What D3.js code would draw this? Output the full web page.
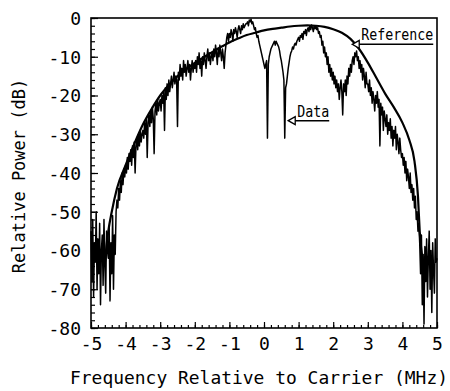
<!DOCTYPE html>
<html><head><meta charset="utf-8">
<script src="https://cdn.jsdelivr.net/npm/d3@7/dist/d3.min.js"></script>
<style>
html,body{margin:0;padding:0;background:#fff;}
svg{display:block;font-family:"DejaVu Sans Mono",monospace;}
</style></head>
<body><svg id="c" width="450" height="391"></svg>
<script>
// ---- data ----
const xTickLabels = [-5,-4,-3,-2,-1,0,1,2,3,4,5];
const yTickLabels = [0,-10,-20,-30,-40,-50,-60,-70,-80];
const freqStart = -5, freqStep = 0.025;
const dataPower = [
-55,-68,-52,-72,-58,-63,-50,-70,-57,-66,-53,-74,-60,-56,-69,-52,-64,-71,-55,-60,
-62,-54,-73,-58,-66,-51,-70,-56,-61,-50,-47,-49,-44,-47,-42,-45,-40,-43,-39,-41,
-38,-40,-36,-39,-35,-37,-34,-38,-33,-36,-32,-40,-33,-31,-34,-30,-33,-29,-32,-30,
-29,-31,-27,-30,-26,-36,-27,-25,-28,-24,-27,-23,-26,-35,-24,-22,-25,-21,-24,-22,
-21,-24,-20,-22,-19,-29,-18,-21,-17,-20,-16,-19,-17,-15,-18,-16,-14,-17,-15,-16,
-28,-14,-16,-12,-15,-13,-16,-11,-14,-12,-15,-13,-11,-14,-12,-16,-13,-11,-14,-12,
-13,-11,-14,-10,-12,-9,-13,-11,-15,-10,-12,-9,-11,-13,-10,-8,-11,-9,-12,-10,
-9,-11,-8,-10,-7,-9,-12,-8,-10,-7,-9,-11,-8,-10,-13,-9,-7,-5,-4,-6,
-4,-5,-3,-4,-6,-3,-4,-2.5,-3.5,-5,-3,-2,-3,-4,-2,-3,-1.5,-2.5,-2,-1.5,
-1.5,-1,-2,-0.5,-1,-0.3,-1.5,-1,-2,-3,-2.5,-4,-5,-4.5,-6,-7,-8,-9,-10,-11,
-12,-13,-12,-11,-31,-12,-10,-9,-8,-7.5,-7,-6.5,-6,-7,-6,-6.5,-7,-7.5,-8.5,-10,
-11,-12.5,-14,-16,-31,-18,-17,-15,-13,-11.5,-10,-9,-8.5,-7.5,-8,-7,-6.5,-7,-6,-5.5,
-5,-6,-4.5,-5,-4,-5.5,-3.5,-4,-3,-4.5,-3,-2.5,-3.5,-2,-3,-1.8,-2.5,-3.5,-2,-2.8,
-2,-3,-2.5,-4,-3.5,-5,-4.5,-7,-6,-9,-7.5,-10,-9,-12,-10,-14,-12,-15,-13,-16,
-14,-17,-15,-18,-16,-19,-17,-21,-18,-16,-19,-25,-17,-19,-16,-20,-15,-17,-13,-15,
-12,-14,-11,-10,-12,-9,-10,-8.5,-11,-10,-13,-11,-14,-12,-16,-13,-15,-18,-14,-17,
-17,-19,-16,-20,-18,-22,-19,-21,-24,-20,-22,-19,-23,-21,-33,-22,-25,-23,-29,-24,
-26,-28,-25,-30,-27,-29,-26,-31,-28,-33,-29,-31,-28,-34,-30,-32,-35,-31,-34,-36,
-35,-38,-36,-40,-37,-42,-39,-41,-44,-40,-45,-43,-47,-44,-49,-46,-52,-50,-55,-53,
-58,-66,-56,-74,-61,-79,-59,-68,-57,-72,-62,-55,-70,-60,-76,-58,-65,-71,-57,-63,
-62];
const refFreq = [-4.6,-4.5,-4.4,-4.25,-4,-3.75,-3.5,-3.25,-3,-2.75,-2.5,-2.25,-2,-1.75,-1.5,-1.25,-1,-0.75,-0.5,-0.25,0,0.25,0.5,0.75,1,1.25,1.5,1.75,2,2.25,2.5,2.75,3,3.25,3.5,3.75,4,4.2,4.35,4.45,4.5,4.6];
const refPower = [-63,-55,-50,-44,-38,-32.5,-27.5,-23.5,-20,-17.3,-15,-13.2,-11.6,-10.2,-8.8,-7.5,-6.3,-5.3,-4.4,-3.8,-3.2,-2.8,-2.5,-2.2,-2.0,-1.9,-2.0,-2.3,-2.9,-3.8,-5.4,-8,-11.5,-15.5,-19.5,-23,-27,-31.5,-37,-46,-55,-63];
const annotations = [
  {label:"Reference", f:2.55, p:-6.8},
  {label:"Data", f:0.7, p:-26.5}
];

// ---- layout ----
const L=91, R=437, T=18, B=328;
const svg = d3.select("#c");
const x = d3.scaleLinear().domain([-5,5]).range([L,R]);
const y = d3.scaleLinear().domain([-80,0]).range([B,T]);

// curves
const dataPts = dataPower.map((p,i)=>[freqStart+i*freqStep, p]);
svg.append("path").attr("d", d3.line().x(d=>x(d[0])).y(d=>y(d[1]))(dataPts))
  .attr("fill","none").attr("stroke","#000").attr("stroke-width",1.5).attr("stroke-linejoin","round");
const refPts = refFreq.map((f,i)=>[f, refPower[i]]);
svg.append("path").attr("d", d3.line().curve(d3.curveMonotoneX).x(d=>x(d[0])).y(d=>y(d[1]))(refPts))
  .attr("fill","none").attr("stroke","#000").attr("stroke-width",2.2);

// axes (inner ticks)
const fmt = d=>String(d);
svg.append("g").attr("transform",`translate(0,${B})`)
  .call(d3.axisBottom(x).tickValues(d3.range(-5,5.001,0.2)).tickSize(-3).tickFormat(""));
const gx2 = svg.append("g").attr("transform",`translate(0,${B})`)
  .call(d3.axisBottom(x).tickValues(xTickLabels).tickSize(-6).tickPadding(12).tickFormat(fmt));
svg.append("g").attr("transform",`translate(${L},0)`)
  .call(d3.axisLeft(y).tickValues(d3.range(-80,0.001,2)).tickSize(-4).tickFormat(""));
const gy2 = svg.append("g").attr("transform",`translate(${L},0)`)
  .call(d3.axisLeft(y).tickValues(yTickLabels).tickSize(-7).tickPadding(10).tickFormat(fmt));
svg.selectAll(".domain").remove();
svg.selectAll(".tick line").attr("stroke","#000").attr("stroke-width",1.2);
svg.selectAll(".tick text").attr("font-family","'DejaVu Sans Mono',monospace").attr("font-size",18).attr("fill","#000");
gx2.selectAll(".tick text").attr("dy","0.55em");
gy2.selectAll(".tick text").attr("dy","0.36em");

// frame
svg.append("rect").attr("x",L).attr("y",T).attr("width",R-L).attr("height",B-T)
  .attr("fill","none").attr("stroke","#000").attr("stroke-width",1.6);

// titles
svg.append("text").attr("x",259).attr("y",384).attr("text-anchor","middle")
  .attr("font-size",18).attr("textLength",378).attr("lengthAdjust","spacingAndGlyphs")
  .text("Frequency Relative to Carrier (MHz)");
svg.append("text").attr("transform","translate(25,176) rotate(-90)").attr("text-anchor","middle")
  .attr("font-size",17).text("Relative Power (dB)");

// annotations
annotations.forEach(a=>{
  const tx = x(a.f), ty = y(a.p);
  const isRef = a.label==="Reference";
  const w = isRef ? 72 : 32;
  svg.append("path").attr("d",`M${tx},${ty} L${tx+7},${ty-4} L${tx+7},${ty+4} Z`)
    .attr("fill","#fff").attr("stroke","#000").attr("stroke-width",1.3);
  svg.append("line").attr("x1",tx+7).attr("x2",tx+7+w+2).attr("y1",ty).attr("y2",ty)
    .attr("stroke","#000").attr("stroke-width",1.5);
  svg.append("text").attr("x",tx+9).attr("y",ty-4).attr("font-size",16)
    .attr("textLength",w).attr("lengthAdjust","spacingAndGlyphs").text(a.label);
});
</script></body></html>
